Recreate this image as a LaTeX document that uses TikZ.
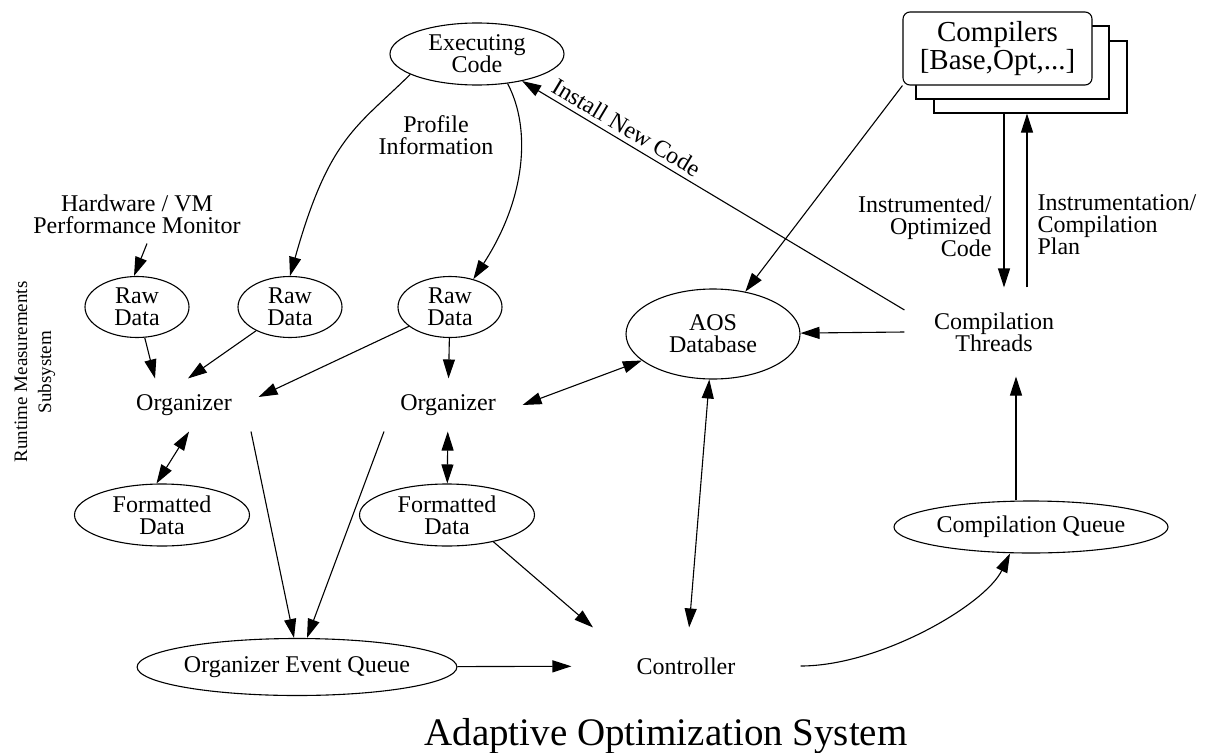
\documentclass[tikz,border=0pt]{standalone}
\usepackage{fontspec}
\setmainfont{Liberation Serif}
\usepackage{tikz}
\usetikzlibrary{arrows.meta}
\usetikzlibrary{shapes}
\tikzset{flow/.style={draw=black,->}}
\tikzset{both/.style={draw=black,<->}}
\tikzset{flows/.style={every edge/.style=flow}}
\tikzset{proc/.style={ellipse,draw=black,fill=white,inner sep=0pt,align=center}}
\tikzset{rawdata/.style={proc,minimum width=104pt,minimum height=61pt}}
\tikzset{fmtdata/.style={proc,minimum width=175pt,minimum height=62pt}}
\tikzset{plain/.style={rectangle,inner sep=0pt,align=center}}
\tikzset{stackbox/.style={rectangle,draw=black,fill=white,inner sep=0pt,minimum width=193pt,minimum height=72pt}}

\begin{document}
\begin{tikzpicture}[x=1pt,y=-1pt,line width=1.1pt,
    >={Triangle[length=19pt,width=12pt]},
    font=\fontsize{24}{22}\selectfont]
  \useasboundingbox (0,0) rectangle (1206,752);

  \node [proc,minimum width=174pt,minimum height=62pt] (EC) at (477,54) {Executing\\Code};
  \node [plain] (PI) at (436,135) {Profile\\Information};
  \node [plain,minimum height=58pt] (HW) at (137,214) {Hardware / VM\\Performance Monitor};
  \node [rawdata] (RD1) at (137,307) {Raw\\Data};
  \node [rawdata] (RD2) at (290,307) {Raw\\Data};
  \node [rawdata] (RD3) at (450,307) {Raw\\Data};
  \node [plain,minimum width=148pt,minimum height=52pt] (OR1) at (184,405) {Organizer};
  \node [plain,minimum width=148pt,minimum height=52pt] (OR2) at (448,405) {Organizer};
  \node [fmtdata] (FD1) at (162,515) {Formatted\\Data};
  \node [fmtdata] (FD2) at (447,515) {Formatted\\Data};
  \node [proc,minimum width=294pt,minimum height=57pt] (OEQ) at (297,667) {Organizer Event Queue};
  \node [plain,minimum width=228pt,minimum height=76pt] (CTL) at (686,666) {Controller};
  \node [proc,minimum width=174pt,minimum height=90pt] (DB) at (713,334) {AOS\\Database};
  \node [plain,minimum width=178pt,minimum height=88pt] (CT) at (994,332) {Compilation\\Threads};
  \node [proc,minimum width=274pt,minimum height=52pt] (CQ) at (1031,527) {Compilation Queue};

  % compilers, drawn as a stack
  \node [stackbox] (CP3) at (1030.5,77) {};
  \node [stackbox,minimum height=73pt] (CP2) at (1012.5,62.5) {};
  \node [stackbox,rounded corners=7pt,minimum width=189pt,minimum height=73pt,
    font=\fontsize{29}{28}\selectfont,align=center] (CP) at (997.5,48.5) {Compilers\\{}[Base,Opt,...]};

  \node [plain,rotate=90,font=\fontsize{19}{24}\selectfont] (RM) at (35,372) {Runtime Measurements\\Subsystem};
  \node [plain,font=\fontsize{39}{40}\selectfont] (TT) at (666,736) {Adaptive Optimization System};

  \draw [flow] ([xshift=10pt]HW.south) -- ([xshift=-3pt]RD1.north);
  \draw [flow] (EC.197) .. controls (357,127) and (329,137) .. (RD2.north);
  \draw [flow] (EC.-44) .. controls (532,130) and (525,200) .. (RD3.50);
  \draw [flow] (CTL.east) .. controls (880,666) and (985,605) .. ([xshift=-21pt]CQ.south);

  \path [flows]
  (RD1) edge ([xshift=-29pt]OR1.north)
  (RD2) edge ([xshift=4pt]OR1.north)
  (RD3) edge ([yshift=8pt]OR1.east)
  (RD3) edge (OR2)
  ([xshift=67pt]OR1.south) edge ([xshift=-3pt]OEQ.north)
  ([xshift=-64pt]OR2.south) edge ([xshift=10pt]OEQ.north)
  (FD2.-30) edge ([xshift=-93pt]CTL.north)
  (OEQ) edge (CTL)
  (CT.west) edge (DB)
  (CP.south west) edge (DB)
  ([xshift=-26.5pt]CP3.south) edge node [pos=0.65,left,align=right,inner sep=12pt] (IO) {Instrumented/\\Optimized\\Code} ([xshift=10pt]CT.north)
  ([xshift=33pt]CT.north) edge node [pos=0.36,right,align=left,inner sep=10pt] (IP) {Instrumentation/\\Compilation\\Plan} ([xshift=-3.5pt]CP3.south)
  ([xshift=-15pt]CQ.north) edge ([xshift=22pt]CT.south)
  ([yshift=22pt]CT.west) edge node [sloped,above,pos=0.745,inner sep=5pt] (IN) {Install New Code} (EC);

  \path [every edge/.style=both]
  ([xshift=5pt]OR1.south) edge (FD1.100)
  (OR2) edge (FD2)
  (OR2.east) edge (DB)
  (DB) edge (CTL);
\end{tikzpicture}
\end{document}
